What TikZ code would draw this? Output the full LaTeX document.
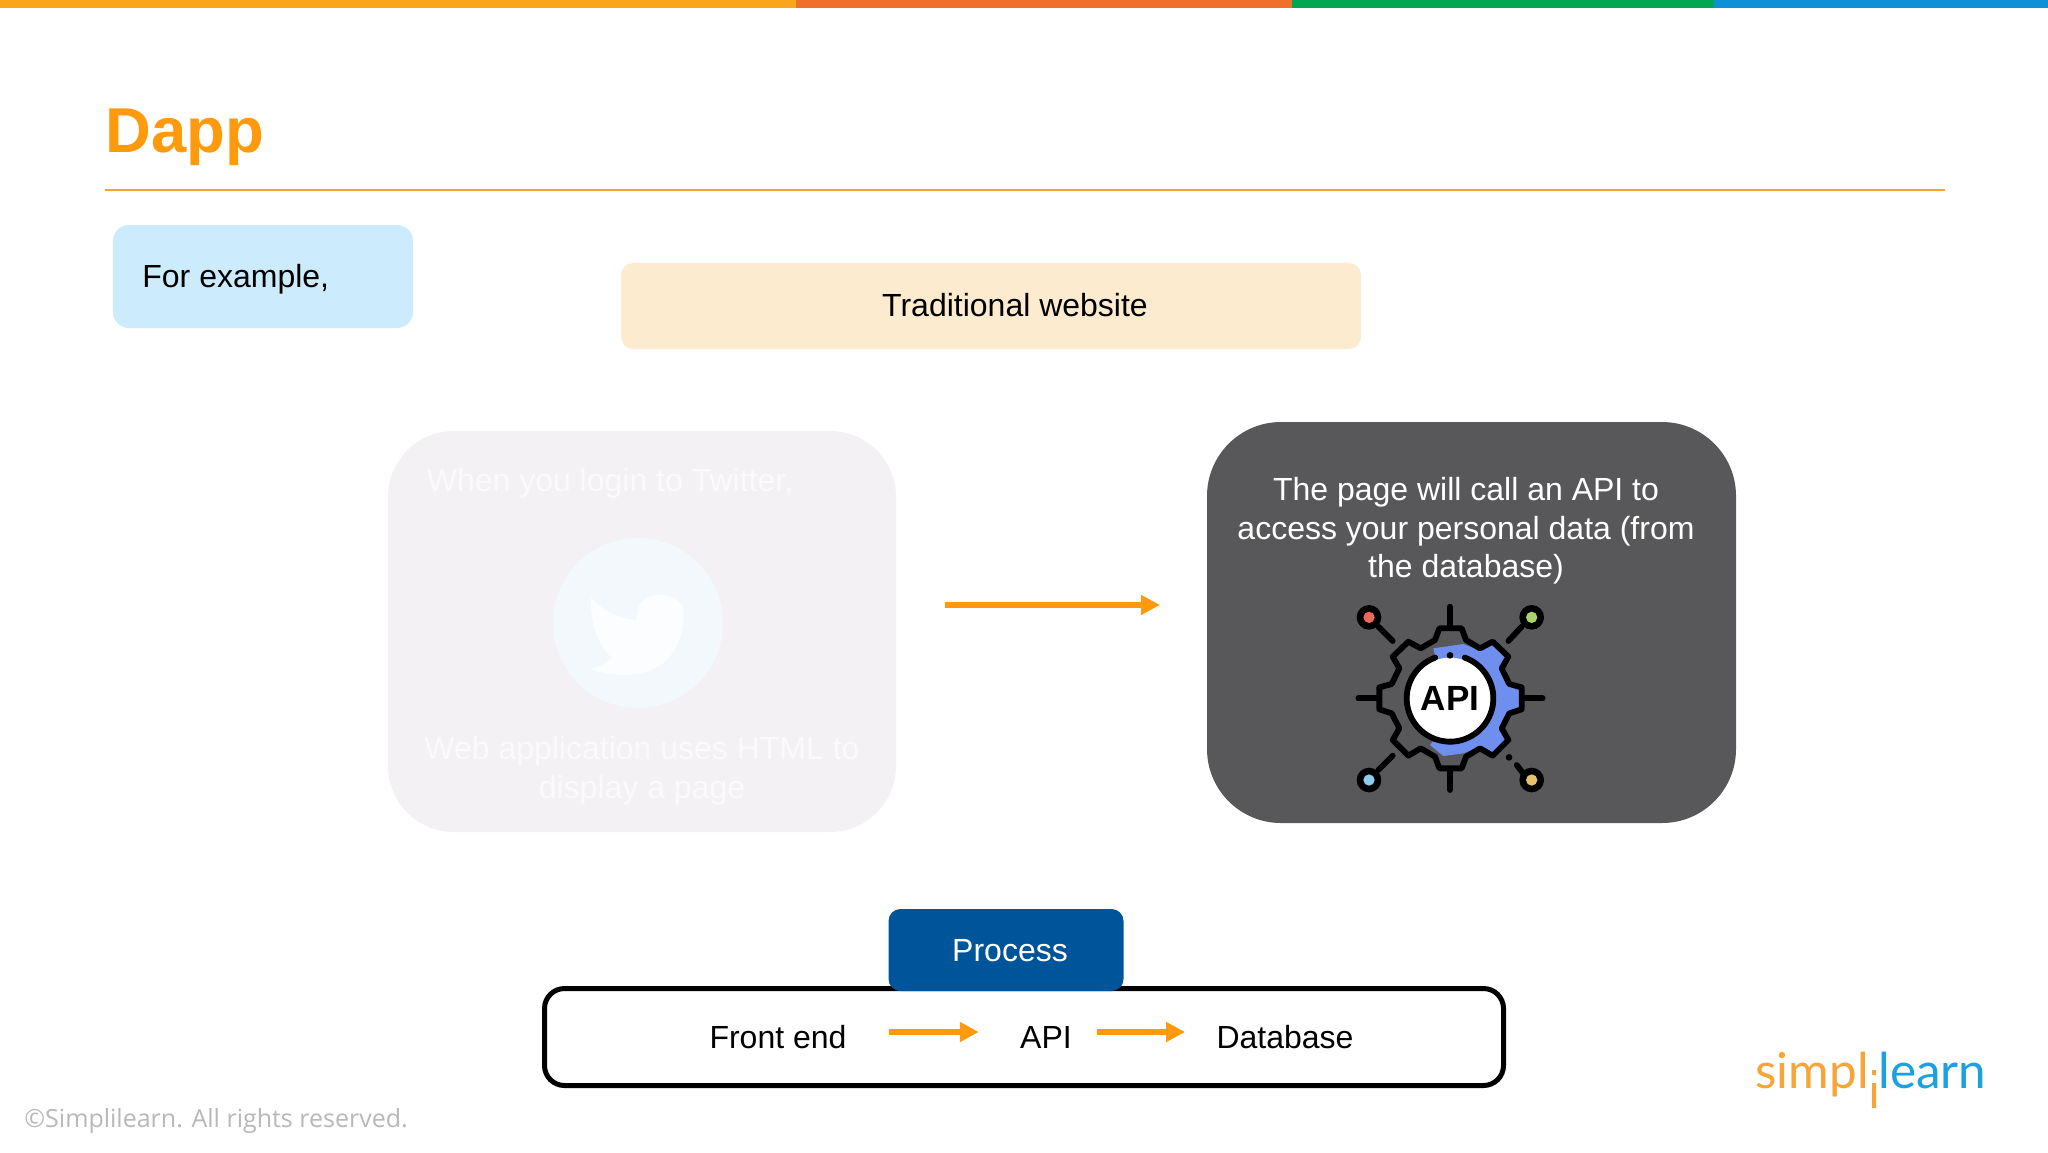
\documentclass[tikz,border=0pt]{standalone}
\usepackage{fontspec}
\setmainfont{Liberation Sans}
\newfontfamily\copyfont{Open Sans}
\newfontfamily\logofont{Lato}
\usetikzlibrary{arrows.meta}
\definecolor{barA}{HTML}{F9A61C}
\definecolor{barB}{HTML}{F0702B}
\definecolor{barC}{HTML}{00A651}
\definecolor{barD}{HTML}{0E90D8}
\definecolor{accent}{HTML}{FF9A0D}
\definecolor{rulecol}{HTML}{F5A630}
\definecolor{skyfill}{HTML}{CCEBFC}
\definecolor{creamfill}{HTML}{FDEBD0}
\definecolor{fadefill}{HTML}{F3F1F4}
\definecolor{fadetext}{HTML}{FAF9FB}
\definecolor{birdcircle}{HTML}{F3F8FD}
\definecolor{darkfill}{HTML}{58585A}
\definecolor{procfill}{HTML}{00549A}
\definecolor{gearblue}{HTML}{6F8FEF}
\definecolor{logoorange}{HTML}{F7A539}
\definecolor{logoblue}{HTML}{1BA0E2}
\tikzset{
  x=0.5pt,y=-0.5pt,
  panel/.style={draw=none,inner sep=0pt,rectangle},
  body/.style={font=\fontsize{16}{19.3}\selectfont,inner sep=0pt,align=center,text=black},
  flow/.style={draw=accent,line width=2.6pt,-{Triangle[length=9.5pt,width=9.5pt]}},
  ink/.style={line width=2.9pt,line cap=round,line join=round,draw=black},
}
\begin{document}
\begin{tikzpicture}
\useasboundingbox (0,0) rectangle (2048,1152);
\fill[white] (0,0) rectangle (2048,1152);
% top bars
\fill[barA] (0,0) rectangle (796,8);
\fill[barB] (796,0) rectangle (1292,8);
\fill[barC] (1292,0) rectangle (1714,8);
\fill[barD] (1714,0) rectangle (2048,8);
% title
\node[anchor=base west,inner sep=0pt,text=accent,font=\fontsize{31.7}{36}\selectfont\bfseries] (title) at (105,152) {Dapp};
\coordinate (ruleL) at (105,190);
\coordinate (ruleR) at (1945,190);
\draw[rulecol,line width=0.9pt] (ruleL) -- (ruleR);
% top boxes
\node[panel,fill=skyfill,rounded corners=8pt,minimum width=150pt,minimum height=51.5pt] (ex) at (263,276.5) {};
\node[body,anchor=west] (extext) at (142,279) {For example,};
\node[panel,fill=creamfill,rounded corners=6pt,minimum width=370pt,minimum height=43pt] (trad) at (991,306) {};
\node[body] (tradtext) at (1015,305) {Traditional website};
% faded panel
\node[panel,fill=fadefill,rounded corners=33pt,minimum width=254pt,minimum height=200.5pt] (fade) at (642,631.5) {};
\node[body,text=fadetext] (fadeA) at (610,483) {When you login to Twitter,};
\node[panel,circle,fill=birdcircle,minimum size=85pt] (tw) at (638,623) {};
\fill[white!70!birdcircle] (683,606) .. controls (672,592) and (650,590) .. (640,604)
  .. controls (637,610) and (637,616) .. (636,620)
  .. controls (616,618) and (600,608) .. (591,597)
  .. controls (590,625) and (598,645) .. (612,658)
  .. controls (604,665) and (596,668) .. (590,669)
  .. controls (610,676) and (640,680) .. (662,664)
  .. controls (680,650) and (686,625) .. (683,606) -- cycle;
\node[body,text=fadetext] (fadeB) at (642,771) {Web application uses HTML to\\display a page};
% dark panel
\node[panel,fill=darkfill,rounded corners=37pt,minimum width=264.5pt,minimum height=200.5pt] (dark) at (1471.5,622.5) {};
\node[body,text=white] (darktext) at (1466,531) {The page will call an API to\\access your personal data (from\\the database)};
% connector between panels
\coordinate (flowA) at (945,605);
\coordinate (flowB) at (1160,605);
\draw[flow] (flowA) -- (flowB);
% API icon
\begin{scope}[shift={(1300,580)},x=0.16667pt,y=-0.16667pt]
  \fill[gearblue] (400,205) -- (490,192) -- (540,212) -- (578,195) -- (618,232) -- (598,268) -- (618,315) -- (660,332) -- (660,380) -- (620,395) -- (598,445) -- (618,480) -- (578,518) -- (540,500) -- (490,520) -- (430,528) -- (390,495) -- (450,420) -- cycle;
  \draw[ink] (418,145) -- (485,145) -- (498,180) -- (540,205) -- (578,185) -- (625,230) -- (605,265) -- (628,312) -- (665,322) -- (665,388) -- (628,400) -- (605,445) -- (625,480) -- (578,527) -- (540,505) -- (498,530) -- (485,565) -- (418,565) -- (405,530) -- (362,505) -- (325,527) -- (278,480) -- (298,445) -- (275,400) -- (238,388) -- (238,322) -- (275,312) -- (298,265) -- (278,230) -- (325,185) -- (362,205) -- (405,180) -- cycle;
  \draw[ink] (450,80) -- (450,135) (450,575) -- (450,630) (175,355) -- (232,355) (672,355) -- (728,355);
  \draw[ink] (235,140) -- (278,183) (665,140) -- (625,183) (235,570) -- (278,527) (668,578) -- (650,555);
  \fill[white] (450,355) circle[radius=122];
  \draw[ink] (450,355) ++(-70:130) arc[start angle=-70,end angle=250,radius=130];
  \fill[black] (450,226) circle[radius=10] (627,532) circle[radius=10];
  \foreach \px/\py/\pc in {207/112/E8685C,695/112/A8D26C,207/600/8CCBEB,695/600/E5C36E}{
    \definecolor{dotc}{HTML}{\pc}
    \fill[black] (\px,\py) circle[radius=37];
    \fill[dotc] (\px,\py) circle[radius=17];
  }
\end{scope}
\node[inner sep=0pt,text=black,font=\fontsize{17.5}{20}\selectfont\bfseries] (apilabel) at (1450,698) {API};
% process
\node[panel,draw=black,line width=2.5pt,fill=white,rounded corners=10pt,minimum width=479.5pt,minimum height=48.5pt] (outer) at (1024,1037) {};
\node[panel,fill=procfill,rounded corners=6pt,minimum width=117.5pt,minimum height=41pt] (proc) at (1006,950) {};
\node[body,text=white] (proctext) at (1010,951) {Process};
\node[body] (fe) at (778,1037) {Front end};
\node[body] (api) at (1046,1037) {API};
\node[body] (db) at (1285,1037) {Database};
\draw[flow] ([xshift=21pt,yshift=2.5pt]fe.east) -- ([xshift=-20.5pt,yshift=2.5pt]api.west);
\draw[flow] ([xshift=12.5pt,yshift=2.5pt]api.east) -- ([xshift=-15.5pt,yshift=2.5pt]db.west);
% footer
\node[anchor=west,inner sep=0pt,text=black!28,font=\copyfont\fontsize{12.5}{15}\selectfont] (copy) at (24,1121) {©Simplilearn. All rights reserved.};
\node[anchor=base east,inner sep=0pt,text=logoorange,font=\logofont\fontsize{24.7}{28}\selectfont] (logoA) at (1869,1088) {simpl};
\node[anchor=base west,inner sep=0pt,text=logoblue,font=\logofont\fontsize{24.7}{28}\selectfont] (logoB) at (1878,1088) {learn};
\fill[logoorange] (1872,1070) rectangle (1876,1075) (1872,1083) rectangle (1876,1108);
\end{tikzpicture}
\end{document}
